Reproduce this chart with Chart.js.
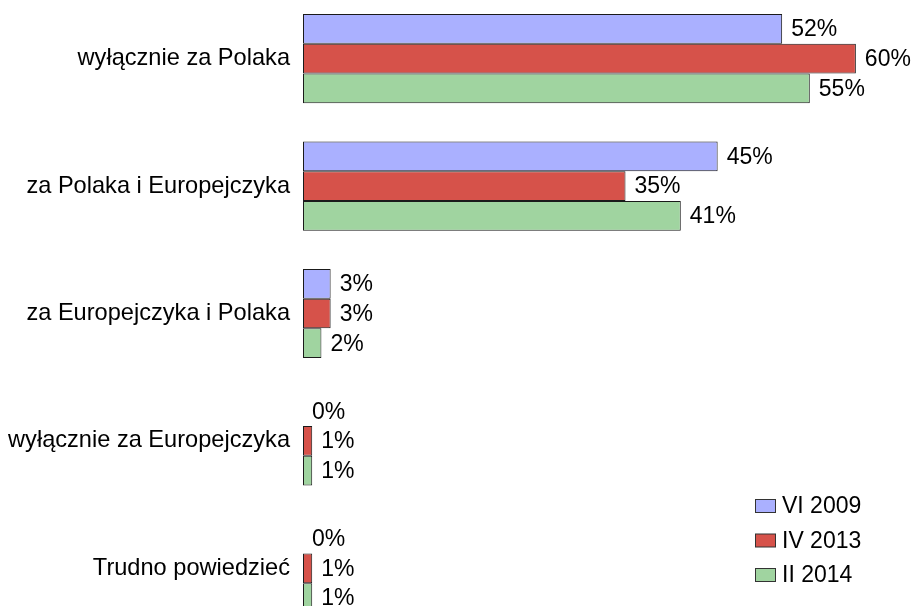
<!DOCTYPE html>
<html>
<head>
<meta charset="utf-8">
<script src="https://cdn.jsdelivr.net/npm/chart.js@4/dist/chart.umd.min.js"></script>
<style>
html,body{margin:0;padding:0;background:#fff;}
#wrap{position:relative;width:913px;height:606px;overflow:hidden;}
#c{position:absolute;left:0;top:-5px;}
</style>
</head>
<body>
<div id="wrap"><canvas id="c" width="913" height="637"></canvas></div>
<script>
const categories = ["wyłącznie za Polaka", "za Polaka i Europejczyka", "za Europejczyka i Polaka", "wyłącznie za Europejczyka", "Trudno powiedzieć"];
const seriesNames = ["VI 2009", "IV 2013", "II 2014"];
const vi2009 = [52, 45, 3, 0, 0];
const iv2013 = [60, 35, 3, 1, 1];
const ii2014 = [55, 41, 2, 1, 1];
const seriesColors = ["#aab0ff", "#d6524a", "#a0d4a0"];

const FONT_FAMILY = '"Liberation Sans", Arial, sans-serif';
const FONT = '23px ' + FONT_FAMILY;

const valueLabels = {
  id: 'valueLabels',
  afterDatasetsDraw(chart) {
    const ctx = chart.ctx;
    ctx.save();
    ctx.font = FONT;
    ctx.fillStyle = '#000';
    ctx.textAlign = 'left';
    ctx.textBaseline = 'middle';
    chart.data.datasets.forEach((ds, i) => {
      const meta = chart.getDatasetMeta(i);
      meta.data.forEach((el, j) => {
        ctx.fillText(ds.data[j] + '%', el.x + 9, el.y + 1);
      });
    });
    ctx.restore();
  }
};

const customLegend = {
  id: 'customLegend',
  afterDraw(chart) {
    const ctx = chart.ctx;
    ctx.save();
    ctx.font = FONT;
    ctx.textAlign = 'left';
    ctx.textBaseline = 'middle';
    chart.data.datasets.forEach((ds, i) => {
      const cy = 511 + i * 34.5;
      ctx.fillStyle = ds.backgroundColor;
      ctx.fillRect(755.5, cy - 6.5, 20, 13);
      ctx.strokeStyle = '#333';
      ctx.lineWidth = 1;
      ctx.strokeRect(755.5, cy - 6.5, 20, 13);
      ctx.fillStyle = '#000';
      ctx.fillText(ds.label, 782, cy + 1);
    });
    ctx.restore();
  }
};

new Chart(document.getElementById('c'), {
  type: 'bar',
  data: {
    labels: categories,
    datasets: [vi2009, iv2013, ii2014].map((d, i) => ({
      label: seriesNames[i],
      data: d,
      backgroundColor: seriesColors[i],
      borderColor: '#1a1a1a',
      borderWidth: 1,
      borderSkipped: false,
      categoryPercentage: 0.7,
      barPercentage: 1.0
    }))
  },
  options: {
    indexAxis: 'y',
    responsive: false,
    animation: false,
    layout: { padding: 0 },
    plugins: {
      legend: { display: false },
      tooltip: { enabled: false }
    },
    scales: {
      x: { display: false, min: 0, max: 66.2 },
      y: {
        afterFit(scale) { scale.width = 303; scale.paddingTop = 0; scale.paddingBottom = 0; },
        grid: { display: false, drawTicks: false },
        border: { display: false },
        ticks: {
          padding: 13,
          color: '#000',
          font: { family: FONT_FAMILY, size: 23.6 }
        }
      }
    }
  },
  plugins: [valueLabels, customLegend]
});
</script>
</body>
</html>
